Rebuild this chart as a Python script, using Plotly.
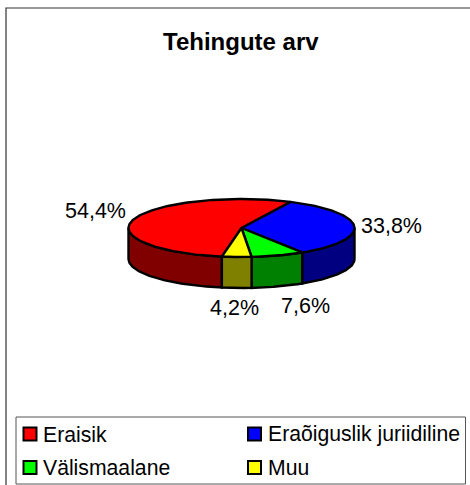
import numpy as np
import plotly.graph_objects as go

title = "Tehingute arv"
categories = ["Eraisik", "Eraõiguslik juriidiline", "Välismaalane", "Muu"]
values = [54.4, 33.8, 7.6, 4.2]
value_labels = ["54,4%", "33,8%", "7,6%", "4,2%"]
top_colors = ["#ff0000", "#0000ff", "#00ff00", "#ffff00"]
side_colors = ["#800000", "#000080", "#008000", "#808000"]

FONT = "Liberation Sans"
CX, CY, RX, RY, DEPTH = 241.5, 228.0, 113.0, 29.0, 31.0
START = 190.0
# pixel offsets of each label from its slice's rim point
LABEL_SHIFT = [(-38, -8), (37, 0), (28, 20), (-2, 20)]
LEGEND_POS = [(30, 434), (254.5, 434), (30, 467.5), (254.5, 467.5)]


def rim(deg, dy=0.0):
    t = np.radians(deg)
    return CX + RX * np.sin(t), CY - RY * np.cos(t) + dy


fig = go.Figure()
fracs = np.array(values) / sum(values) * 360
starts = START + np.concatenate([[0], np.cumsum(fracs)[:-1]])
ends = starts + fracs


def poly(x, y, fill):
    fig.add_trace(go.Scatter(x=x, y=y, mode="lines", fill="toself", fillcolor=fill,
                             line=dict(color="#000000", width=2.4), hoverinfo="skip",
                             showlegend=False))


# side walls: only the front half (90..270 deg) is visible
for s, e, c in zip(starts, ends, side_colors):
    for off in (0, -360):
        a, b = max(s + off, 90), min(e + off, 270)
        if b > a:
            ang = np.linspace(a, b, 80)
            xt, yt = rim(ang)
            xb, yb = rim(ang[::-1], DEPTH)
            poly(np.r_[xt, xb, xt[0]], np.r_[yt, yb, yt[0]], c)

# top faces
for s, e, c in zip(starts, ends, top_colors):
    ang = np.linspace(s, e, 160)
    xt, yt = rim(ang)
    poly(np.r_[CX, xt, CX], np.r_[CY, yt, CY], c)

annotations = []
for s, e, lab, (dx, dy) in zip(starts, ends, value_labels, LABEL_SHIFT):
    m = (s + e) / 2
    front = 90 < (m % 360) < 270
    x, y = rim(m, DEPTH if front else 0)
    annotations.append(dict(x=x, y=y, text=lab, showarrow=False, xshift=dx, yshift=-dy,
                            font=dict(family=FONT, size=21.5, color="#000000")))

annotations.append(dict(x=241, y=41, text=f"<b>{title}</b>", showarrow=False,
                        font=dict(family=FONT, size=24, color="#000000")))

for cat, col, (x, y) in zip(categories, top_colors, LEGEND_POS):
    fig.add_trace(go.Scatter(x=[x], y=[y], mode="markers",
                             marker=dict(symbol="square", size=13, color=col,
                                         line=dict(color="#000000", width=2)),
                             hoverinfo="skip", showlegend=False))
    annotations.append(dict(x=x + 11, y=y, text=cat, showarrow=False, xanchor="left",
                            font=dict(family=FONT, size=21.2, color="#000000")))

shapes = [
    dict(type="rect", x0=6, y0=8, x1=480, y1=495, line=dict(color="#333333", width=1.2),
         fillcolor="#ffffff", layer="below"),
    dict(type="rect", x0=16, y0=417, x1=465.5, y1=484, line=dict(color="#555555", width=1),
         fillcolor="#ffffff", layer="below"),
]

fig.update_layout(
    width=470, height=485, margin=dict(l=0, r=0, t=0, b=0),
    paper_bgcolor="#ffffff", plot_bgcolor="#ffffff",
    xaxis=dict(range=[0, 470], visible=False, fixedrange=True),
    yaxis=dict(range=[485, 0], visible=False, fixedrange=True),
    annotations=annotations, shapes=shapes, showlegend=False,
)
fig.write_html("out.html", config={"displayModeBar": False},
               post_script="document.body.style.margin='0';document.documentElement.style.overflow='hidden';")
